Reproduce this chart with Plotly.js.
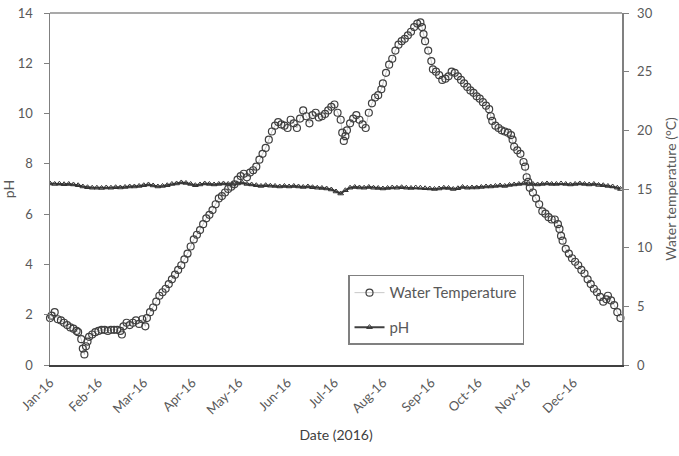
<!DOCTYPE html>
<html>
<head>
<meta charset="utf-8">
<script src="https://cdn.plot.ly/plotly-3.0.1.min.js"></script>
<style>html,body{margin:0;padding:0;background:#fff;}#chart{width:679px;height:456px;}</style>
</head>
<body>
<div id="chart"></div>
<script>
// Day of year 2016 (0 = 1 Jan) and water temperature (°C)
const tempDays = [0,1,3,5,7,9,11,13,15,17,18,20,21,22,23,24,25,27,29,
  31,33,35,37,39,41,43,45,46,47,49,51,53,55,57,59,61,62,
  64,66,68,70,72,74,76,78,80,82,84,86,88,90,
  92,94,96,98,100,102,104,106,108,110,112,114,116,118,120,
  122,124,126,128,130,132,134,136,138,140,142,144,146,148,150,
  152,154,156,158,160,162,164,166,168,170,172,174,176,178,180,
  182,184,186,187,188,189,190,192,194,196,198,200,202,204,206,208,210,212,
  213,215,217,219,221,223,225,227,229,231,233,235,237,238,239,240,242,
  244,245,247,249,251,253,255,257,259,261,263,265,267,269,271,273,
  275,277,279,281,282,283,285,287,289,291,293,295,296,297,299,301,303,304,
  305,306,307,309,311,313,315,317,319,321,323,325,326,327,328,330,332,334,
  336,338,340,342,344,346,348,350,352,354,356,357,359,361,363,365];
const tempValues = [4.0,4.2,4.5,3.9,3.8,3.6,3.4,3.2,3.1,2.9,2.8,2.2,1.4,0.9,1.6,2.0,2.4,2.6,2.8,
  2.9,3.0,3.0,2.9,3.0,3.0,3.0,2.9,2.6,3.3,3.6,3.4,3.6,3.8,3.5,3.9,3.3,4.0,
  4.5,4.9,5.4,5.9,6.2,6.5,6.9,7.3,7.7,8.1,8.5,9.0,9.5,10.1,
  10.7,11.1,11.5,12.0,12.5,12.8,13.2,13.7,14.2,14.4,14.7,15.0,15.2,15.4,15.8,
  16.1,16.3,16.0,16.4,16.6,16.9,17.5,18.0,18.5,19.2,19.9,20.4,20.7,20.5,20.4,
  20.2,20.9,20.6,20.2,21.0,21.7,21.2,20.6,21.3,21.5,21.1,21.2,21.4,21.7,22.0,
  22.2,21.5,20.9,19.8,19.1,19.5,20.0,20.6,21.0,21.3,20.9,20.5,20.2,21.5,22.3,22.8,23.0,23.5,
  24.0,24.9,25.6,26.1,26.8,27.3,27.6,27.8,28.1,28.4,28.8,29.1,29.2,28.8,28.2,27.6,26.8,
  25.9,25.2,25.0,24.7,24.3,24.4,24.6,25.0,24.9,24.6,24.3,24.0,23.7,23.4,23.2,22.9,
  22.7,22.4,22.1,21.8,21.2,20.8,20.4,20.2,20.0,19.9,19.8,19.6,19.2,18.6,18.3,18.0,17.3,16.9,
  16.0,15.6,15.1,14.7,14.2,13.7,13.1,12.9,12.6,12.4,12.4,12.0,11.6,11.0,10.6,9.9,9.5,9.1,
  8.8,8.5,8.1,7.8,7.3,6.9,6.5,6.2,5.8,5.4,5.6,5.9,5.5,5.1,4.5,4.0];

// Day of year 2016 and pH
const phDays = [0,3,6,9,12,15,18,21,24,27,30,
  33,36,39,42,45,48,51,54,57,
  60,63,66,69,72,75,78,81,84,87,
  90,93,96,99,102,105,108,111,114,117,120,
  123,126,129,132,135,138,141,144,147,150,
  153,156,159,162,165,168,171,174,177,180,
  183,186,189,192,195,198,201,204,207,210,
  213,216,219,222,225,228,231,234,237,240,
  243,246,249,252,255,258,261,264,267,270,
  273,276,279,282,285,288,291,294,297,300,303,
  306,309,312,315,318,321,324,327,330,333,
  336,339,342,345,348,351,354,357,360,363,365];
const phValues = [7.22,7.2,7.21,7.19,7.2,7.18,7.15,7.1,7.07,7.05,7.05,
  7.04,7.06,7.05,7.07,7.06,7.08,7.1,7.1,7.12,
  7.15,7.18,7.14,7.1,7.12,7.15,7.2,7.22,7.26,7.24,
  7.2,7.15,7.18,7.22,7.2,7.18,7.2,7.22,7.2,7.18,7.22,
  7.25,7.2,7.18,7.15,7.12,7.15,7.13,7.12,7.1,7.12,
  7.1,7.12,7.1,7.08,7.1,7.07,7.05,7.04,7.02,6.98,
  6.9,6.82,6.95,7.05,7.08,7.06,7.05,7.08,7.05,7.04,
  7.02,7.04,7.06,7.05,7.07,7.05,7.04,7.06,7.05,7.03,
  7.02,7.0,7.02,7.05,7.04,7.0,7.03,7.08,7.05,7.06,
  7.06,7.08,7.1,7.1,7.12,7.14,7.12,7.16,7.18,7.2,7.22,
  7.24,7.2,7.18,7.2,7.22,7.2,7.2,7.22,7.2,7.18,
  7.2,7.22,7.2,7.18,7.2,7.16,7.15,7.12,7.1,7.05,7.0];

const monthTicks = ['2016-01-01','2016-02-01','2016-03-01','2016-04-01','2016-05-01','2016-06-01',
  '2016-07-01','2016-08-01','2016-09-01','2016-10-01','2016-11-01','2016-12-01'];
const monthLabels = ['Jan-16','Feb-16','Mar-16','Apr-16','May-16','Jun-16',
  'Jul-16','Aug-16','Sep-16','Oct-16','Nov-16','Dec-16'];

function dayToDate(d){
  return new Date(Date.UTC(2016,0,1) + d*86400000).toISOString().slice(0,10);
}

const gray = '#595959';
const fontFam = 'Lato, "Liberation Sans", sans-serif';

const traces = [
  {
    x: tempDays.map(dayToDate), y: tempValues, yaxis: 'y2',
    name: 'Water Temperature', legendgroup: 'a',
    mode: 'lines+markers',
    line: {color: '#b0b0b0', width: 0.7},
    marker: {symbol: 'circle-open', size: 7, color: '#3f3f3f', line: {width: 1.2}},
    cliponaxis: false
  },
  {
    x: phDays.map(dayToDate), y: phValues, yaxis: 'y',
    name: 'pH', legendgroup: 'b',
    mode: 'lines+markers',
    line: {color: '#404040', width: 2},
    marker: {symbol: 'triangle-up-open', size: 5, color: '#303030', line: {width: 1}}
  }
];

const layout = {
  width: 679, height: 456,
  margin: {l: 50, r: 57, t: 13, b: 91},
  paper_bgcolor: '#fff', plot_bgcolor: '#fff',
  font: {family: fontFam, color: gray, size: 12},
  showlegend: true,
  legend: {
    x: 0.521, y: 0.256, xanchor: 'left', yanchor: 'top',
    bordercolor: '#808080', borderwidth: 1.5, bgcolor: '#fff',
    font: {size: 15, color: gray, family: fontFam},
    traceorder: 'grouped', tracegroupgap: 12,
    entrywidth: 175
  },
  xaxis: {
    type: 'date',
    range: ['2016-01-01', '2017-01-01'],
    tickvals: monthTicks, ticktext: monthLabels,
    tickangle: -45,
    tickfont: {size: 13, color: gray, family: fontFam},
    showgrid: false, zeroline: false,
    showline: true, linecolor: '#404040', linewidth: 2,
    ticks: '',
    ticklabelstandoff: 3,
    title: {text: 'Date (2016)', font: {size: 14, color: '#404040', family: fontFam}, standoff: 14}
  },
  yaxis: {
    range: [0, 14], dtick: 2, tick0: 0,
    showgrid: false, zeroline: false,
    showline: true, linecolor: '#808080', linewidth: 1.5,
    ticks: 'outside', ticklen: 5, tickcolor: '#808080', tickwidth: 1,
    ticklabelstandoff: 8,
    tickfont: {size: 13, color: gray, family: fontFam},
    title: {text: 'pH', font: {size: 14, color: gray, family: fontFam}, standoff: 8}
  },
  yaxis2: {
    range: [0, 30], dtick: 5, tick0: 0,
    overlaying: 'y', side: 'right',
    showgrid: false, zeroline: false,
    showline: true, linecolor: '#808080', linewidth: 1.5,
    ticks: 'outside', ticklen: 5, tickcolor: '#808080', tickwidth: 1,
    ticklabelstandoff: 6,
    tickfont: {size: 13, color: gray, family: fontFam},
    title: {text: 'Water temperature (°C)', font: {size: 14, color: gray, family: fontFam}, standoff: 14}
  },
  shapes: [
    {type: 'line', xref: 'paper', yref: 'paper', x0: 0, x1: 1, y0: 1, y1: 1,
     line: {color: '#8c8c8c', width: 1.5}}
  ]
};

Plotly.newPlot('chart', traces, layout, {displayModeBar: false, staticPlot: true});
</script>
</body>
</html>
